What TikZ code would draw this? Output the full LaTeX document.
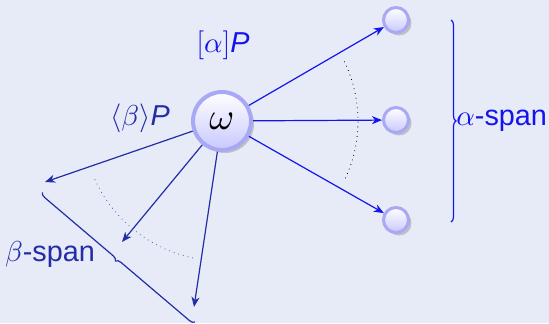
\documentclass[tikz,border=0pt]{standalone}
\usepackage{fontspec}
\setmainfont{Liberation Sans}
\DeclareFontShape{OML}{cmm}{m}{it}{<->cmmi10}{}
\usetikzlibrary{arrows.meta,shadows,decorations.pathreplacing}
\definecolor{bgcol}{RGB}{230,235,247}
\definecolor{acol}{RGB}{20,20,235}
\definecolor{bcol}{RGB}{35,45,165}
\definecolor{dotcol}{RGB}{80,95,190}
\definecolor{ballrim}{RGB}{168,168,245}
\definecolor{ballfill}{RGB}{200,200,255}
\begin{document}
\begin{tikzpicture}[x=.5pt,y=-.5pt,font=\fontsize{14.4}{17}\selectfont,
  world/.style={circle,draw=ballrim,line width=#1,top color=white,bottom color=ballfill,
    inner sep=0pt,drop shadow={opacity=.4,shadow xshift=1.5pt,shadow yshift=-1.5pt}},
  alphaedge/.style={acol,line width=.6pt,-{Stealth[length=5pt,width=4pt,inset=1.5pt]}},
  betaedge/.style={bcol,line width=.6pt,-{Stealth[length=5pt,width=4pt,inset=1.5pt]}},
  spanbrace/.style={decorate,decoration={brace,amplitude=2.5pt},line width=.6pt}]
  \fill[bgcol] (0,0) rectangle (549,323);
  \useasboundingbox (0,0) rectangle (549,323);
  % worlds
  \node[world=2pt,minimum size=29pt,font=\fontsize{19}{22}\selectfont] (w) at (222,121) {$\omega$};
  \node[world=1.5pt,minimum size=12.5pt] (a1) at (396,20) {};
  \node[world=1.5pt,minimum size=12.5pt] (a2) at (396,120) {};
  \node[world=1.5pt,minimum size=12.5pt] (a3) at (396,220) {};
  \coordinate (b1) at (45,182);
  \coordinate (b2) at (122,242);
  \coordinate (b3) at (194,307);
  % edges
  \draw[alphaedge] (w) -- (a1);
  \draw[alphaedge] (w) -- (a2);
  \draw[alphaedge] (w) -- (a3);
  \draw[betaedge] (w) -- (b1);
  \draw[betaedge] (w) -- (b2);
  \draw[betaedge] (w) -- (b3);
  % spans
  \draw[black,dotted] (w.center) ++(-26:136) arc[start angle=-26,end angle=26,radius=136];
  \draw[dotcol,dotted] (w.center) ++(102:140) arc[start angle=102,end angle=156,radius=140];
  \draw[acol,spanbrace] (451,20) -- (451,222);
  \draw[bcol,spanbrace] (195,322) -- (42,192);
  % labels
  \node[acol] (alab) at (223,45) {$[\alpha]$\textit{P}};
  \node[bcol] (blab) at (140,118) {$\langle\beta\rangle$\textit{P}};
  \node[acol,anchor=west,inner sep=0pt] (aspan) at (456,121) {$\alpha$-span};
  \node[bcol] (bspan) at (50,254) {$\beta$-span};
\end{tikzpicture}
\end{document}
